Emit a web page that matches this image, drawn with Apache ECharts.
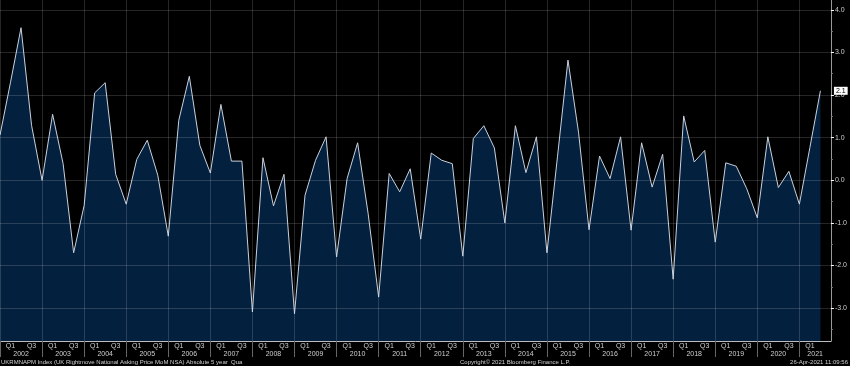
<!DOCTYPE html>
<html>
<head>
<meta charset="utf-8">
<script src="https://cdn.jsdelivr.net/npm/echarts@6/dist/echarts.min.js"></script>
<style>html,body{margin:0;padding:0;background:#000;}#c{width:850px;height:366px;}</style>
</head>
<body>
<div id="c"></div>
<script>
// Quarterly values (UK Rightmove asking price MoM, 5-year quarterly)
const years = [2002,2003,2004,2005,2006,2007,2008,2009,2010,2011,2012,2013,2014,2015,2016,2017,2018,2019,2020,2021];
const values = [
  1.06, 2.30, 3.58, 1.29,  0.00, 1.55, 0.39, -1.70,  -0.59, 2.05, 2.29, 0.14,
  -0.56, 0.49, 0.94, 0.12,  -1.31, 1.41, 2.44, 0.82,  0.17, 1.78, 0.45, 0.45,
  -3.09, 0.53, -0.60, 0.14,  -3.13, -0.35, 0.47, 1.02,  -1.80, 0.04, 0.88, -0.78,
  -2.74, 0.16, -0.27, 0.27,  -1.38, 0.64, 0.47, 0.39,  -1.78, 0.98, 1.28, 0.76,
  -1.00, 1.28, 0.18, 1.02,  -1.70, 0.55, 2.82, 1.13,  -1.16, 0.57, 0.04, 1.02,
  -1.17, 0.88, -0.16, 0.61,  -2.32, 1.51, 0.43, 0.70,  -1.45, 0.41, 0.33, -0.20,
  -0.88, 1.02, -0.17, 0.21,  -0.56, 0.77, 2.10
];
const yTicks = [-3, -2, -1, 0, 1, 2, 3, 4];
const yMinorTicks = [-3.5, -2.5, -1.5, -0.5, 0.5, 1.5, 2.5, 3.5];
const quarterLabels = ['Q1', 'Q3'];
const footerLeft = 'UKRMNAPM Index (UK Rightmove National Asking Price MoM NSA) Absolute 5 year  Qua';
const footerCenter = 'Copyright\u00A9 2021 Bloomberg Finance L.P.';
const footerRight = '26-Apr-2021 11:09:56';

const xMin = 0, xMax = 79;
const yMin = -3.77, yMax = 4.23;
const yearBounds = years.map((y, i) => 4 * i);
const yearCenters = years.map((y, i) => Math.min(4 * i + 2, (4 * i + xMax) / 2));
const qPositions = [];
years.forEach((y, i) => { [1, 3].forEach(q => { if (4 * i + q < xMax) qPositions.push(4 * i + q); }); });

const FONT = "'Liberation Sans Narrow', 'Liberation Sans', Arial, sans-serif";
const gridCol = 'rgba(255,255,255,0.15)';
const last = values[values.length - 1];
const footStyle = { fontSize: 6, fontWeight: 'normal', color: '#cfcfcf', fontFamily: FONT };

const chart = echarts.init(document.getElementById('c'), null, { renderer: 'canvas' });
chart.setOption({
  backgroundColor: '#000',
  animation: false,
  title: [
    { text: footerLeft, left: 1, top: 359, padding: 0, textStyle: footStyle },
    { text: footerCenter, left: 460, top: 359, padding: 0, textStyle: footStyle },
    { text: footerRight, right: 2, top: 359, padding: 0, textStyle: footStyle }
  ],
  grid: { left: 0, right: 18, top: 0, bottom: 25, containLabel: false },
  xAxis: [
    {
      type: 'value', min: xMin, max: xMax, position: 'bottom', z: 5,
      axisLine: { show: true, onZero: false, lineStyle: { color: '#bdbdbd', width: 1 } },
      axisTick: { show: true, customValues: yearBounds, length: 16, lineStyle: { color: '#666' } },
      axisLabel: {
        show: true, customValues: qPositions, margin: 2, fontSize: 7, color: '#cfcfcf', fontFamily: FONT,
        formatter: v => quarterLabels[(Math.round(v) % 4 === 1) ? 0 : 1]
      },
      splitLine: { show: true, lineStyle: { color: gridCol, width: 1 } }
    },
    {
      type: 'value', min: xMin, max: xMax, position: 'bottom', z: 5,
      axisLine: { show: false, onZero: false }, axisTick: { show: false }, splitLine: { show: false },
      axisLabel: {
        show: true, customValues: yearCenters, margin: 10, fontSize: 7, color: '#cfcfcf', fontFamily: FONT,
        formatter: v => String(years[Math.floor(v / 4)])
      }
    }
  ],
  yAxis: [
    {
      type: 'value', min: yMin, max: yMax, position: 'right', z: 5,
      axisLine: { show: true, onZero: false, lineStyle: { color: '#9a9a9a', width: 1 } },
      axisTick: { show: true, customValues: yTicks, length: 3, lineStyle: { color: '#fff' } },
      axisLabel: { show: true, customValues: yTicks, margin: 4, fontSize: 7, color: '#cfcfcf', fontFamily: FONT, formatter: v => v.toFixed(1) },
      splitLine: { show: true, lineStyle: { color: gridCol, width: 1 } }
    },
    {
      type: 'value', min: yMin, max: yMax, position: 'right', z: 5,
      axisLine: { show: false, onZero: false },
      axisTick: { show: true, customValues: yMinorTicks, length: 2, lineStyle: { color: '#777' } },
      axisLabel: { show: false }, splitLine: { show: false }
    }
  ],
  series: [{
    type: 'line',
    xAxisIndex: 0, yAxisIndex: 0,
    data: values.map((v, i) => [i, v]),
    symbol: 'none',
    lineStyle: { color: '#c9d1dc', width: 1 },
    areaStyle: { color: '#04203f', opacity: 1, origin: 'start' },
    z: 2,
    markLine: {
      silent: true, symbol: ['none', 'none'], animation: false, z: 10,
      lineStyle: { color: 'rgba(0,0,0,0)', width: 1, type: 'solid' },
      label: {
        show: true, position: 'end', distance: 3, formatter: last.toFixed(1),
        backgroundColor: '#ffffff', color: '#000000', fontSize: 7, fontFamily: FONT, padding: [1, 2, 0, 2]
      },
      data: [{ yAxis: last }]
    }
  }]
});
</script>
</body>
</html>
